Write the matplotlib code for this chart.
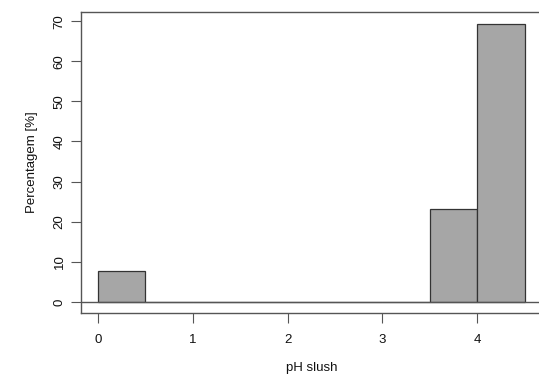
import matplotlib
matplotlib.use("Agg")
import matplotlib.pyplot as plt

plt.rcParams['font.family'] = ['Liberation Sans', 'DejaVu Sans']

bin_edges = [0, 0.5, 1.0, 1.5, 2.0, 2.5, 3.0, 3.5, 4.0, 4.5]
percentages = [7.69, 0, 0, 0, 0, 0, 0, 23.08, 69.23]
x_ticks = [0, 1, 2, 3, 4]
y_ticks = [0, 10, 20, 30, 40, 50, 60, 70]

fig = plt.figure(figsize=(5.39, 3.78), dpi=100)
ax = fig.add_axes([81/539, 65/378, 460.6/539, 301/378])

lefts = bin_edges[:-1]
widths = [b - a for a, b in zip(bin_edges[:-1], bin_edges[1:])]
ax.bar(lefts, percentages, width=widths, align='edge', color='#A6A6A6',
       edgecolor='#333333', linewidth=0.9, zorder=2)
ax.axhline(0, color='#555555', linewidth=1.0, zorder=3)

ax.set_xlim(-0.18, 4.68)
ax.set_ylim(-2.78, 72.28)
ax.set_xticks(x_ticks)
ax.set_yticks(y_ticks)
ax.set_xticklabels([str(v) for v in x_ticks], fontsize=9.5)
ax.set_yticklabels([str(v) for v in y_ticks], fontsize=9.5, rotation=90, va='center')
ax.tick_params(axis='both', direction='out', length=7, width=0.8, color='#555555', labelcolor='#111111')
ax.tick_params(axis='x', pad=8)
ax.tick_params(axis='y', pad=4)
for s in ax.spines.values():
    s.set_color('#555555')
    s.set_linewidth(1.0)

ax.set_xlabel('pH slush', fontsize=9.5, labelpad=12, color='#111111')
ax.set_ylabel('Percentagem [%]', fontsize=9.5, labelpad=11, color='#111111')

fig.savefig('out.png', dpi=100)
